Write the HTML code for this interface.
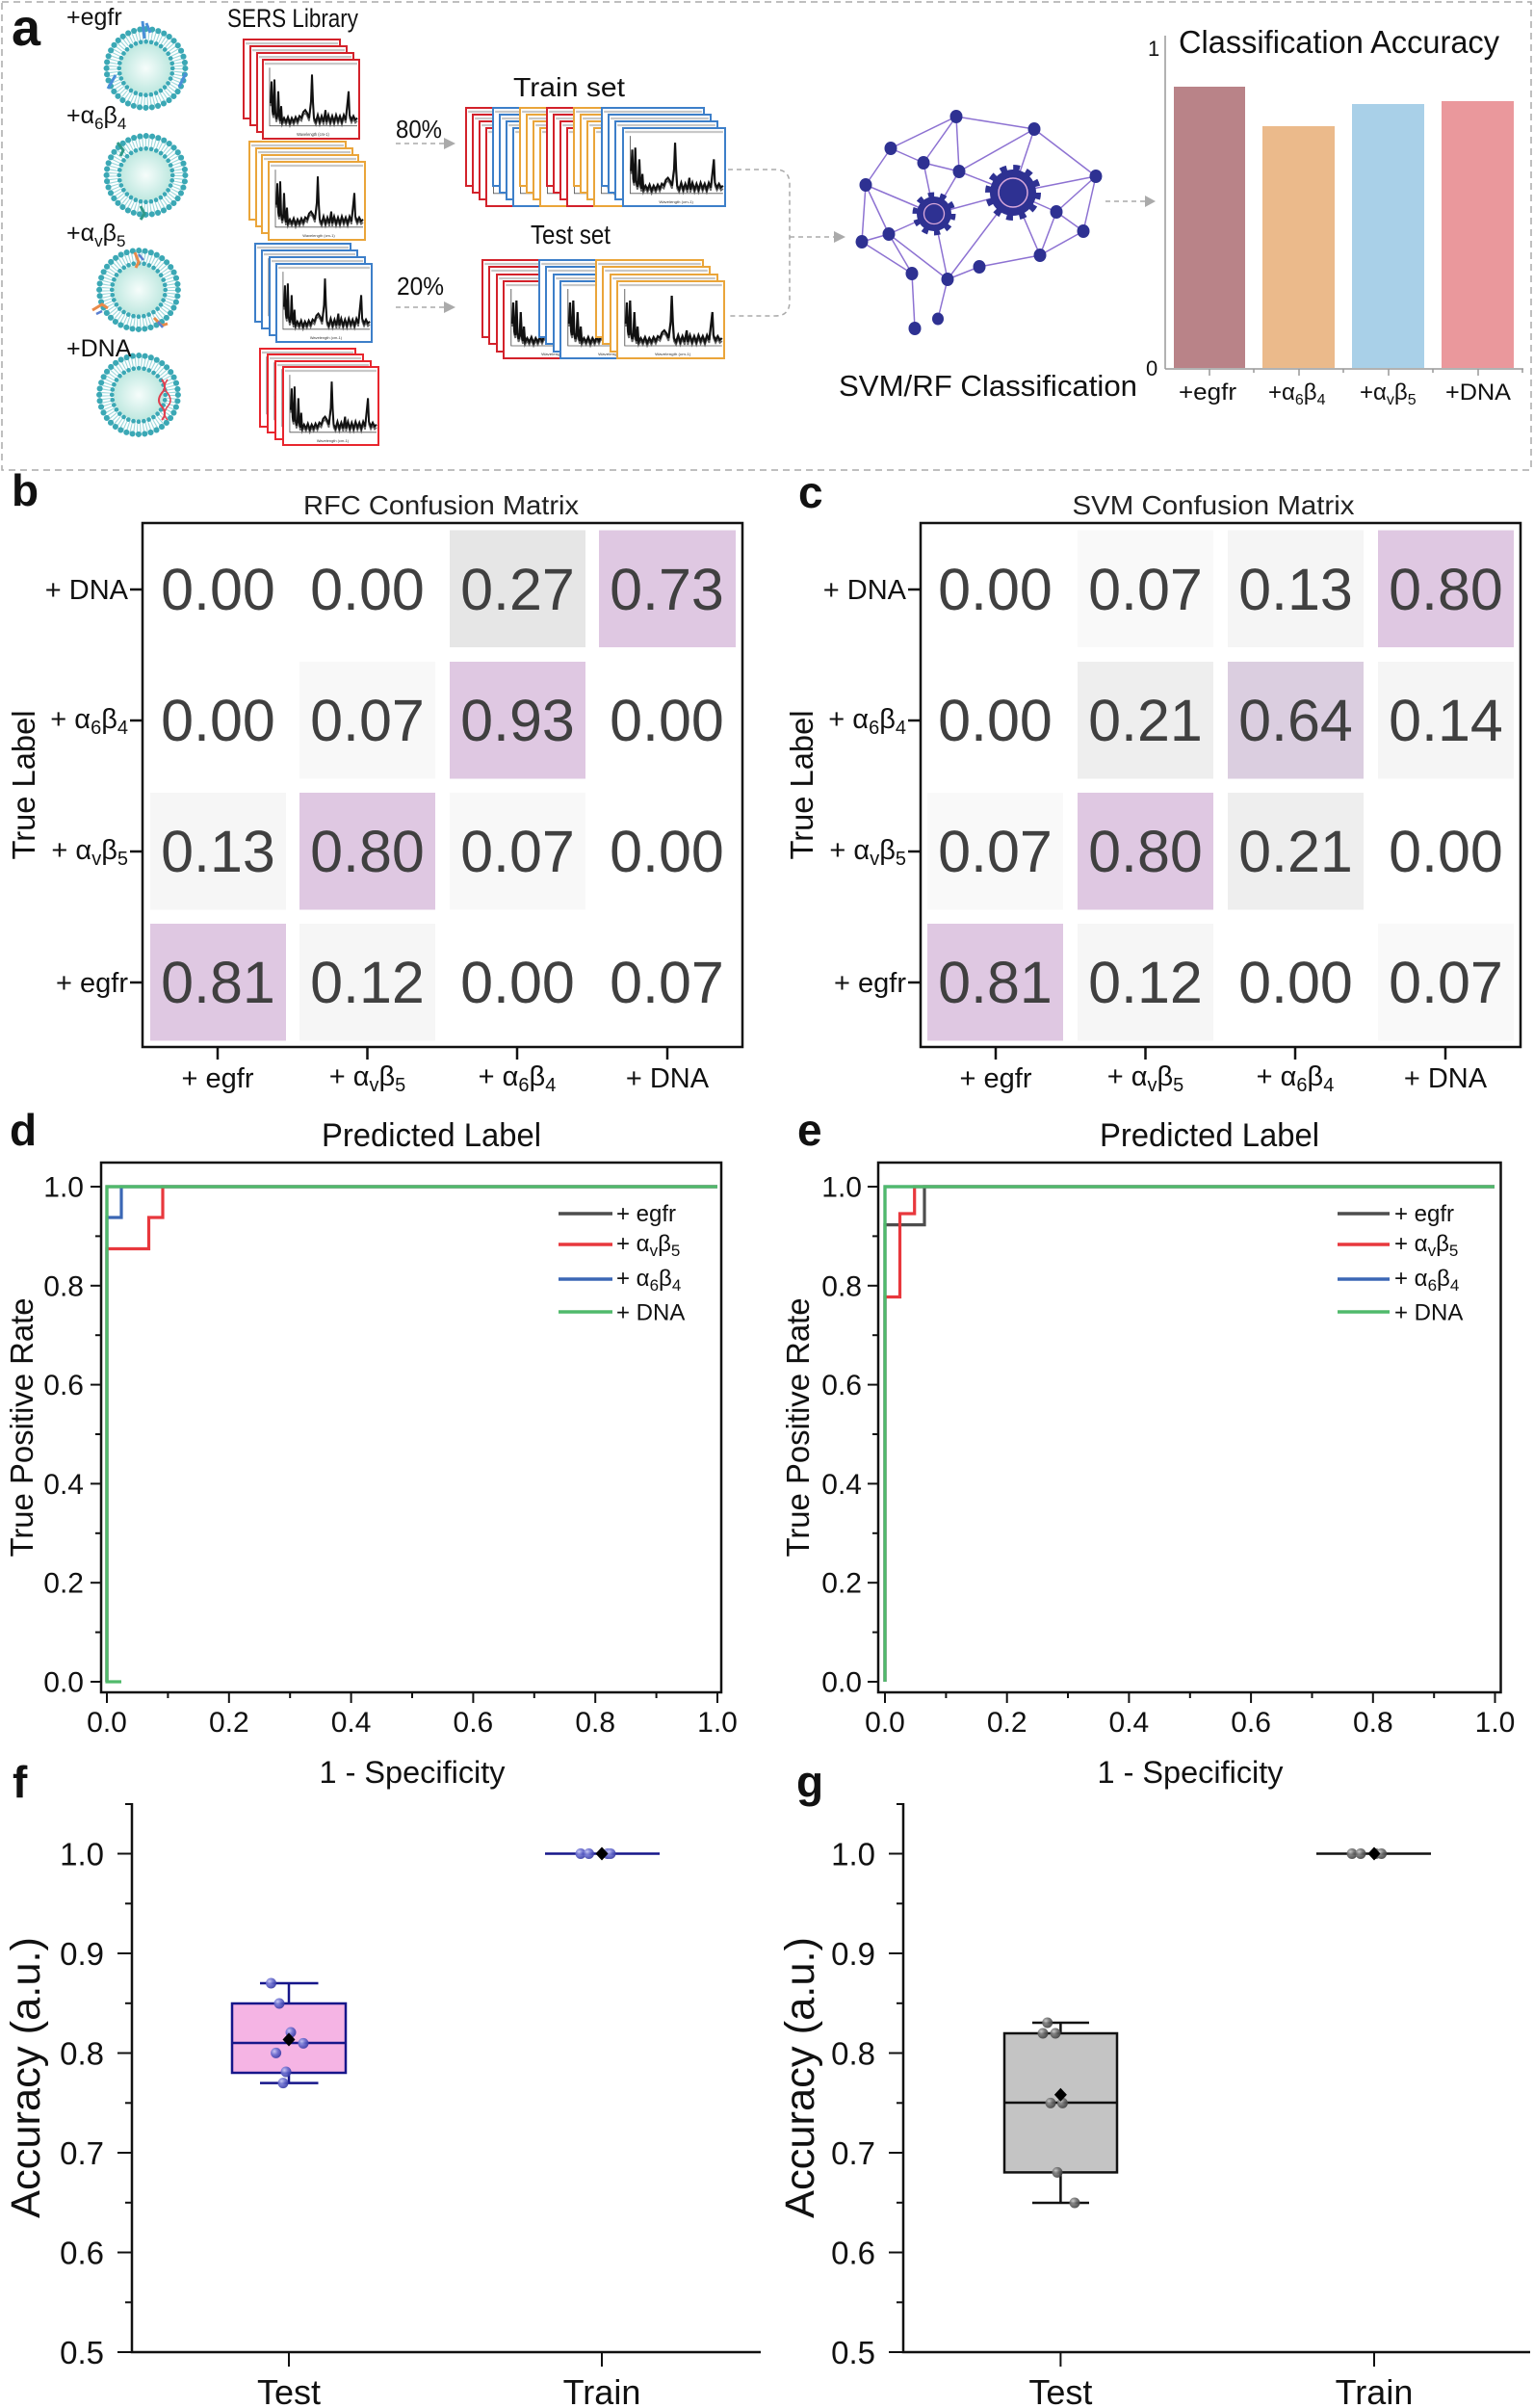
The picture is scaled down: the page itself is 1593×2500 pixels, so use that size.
<!DOCTYPE html>
<html><head><meta charset="utf-8">
<style>
html,body{margin:0;padding:0;background:#fff;}
svg{display:block;}
text{font-family:"Liberation Sans",Arial,sans-serif;}
</style></head>
<body>
<svg width="1593" height="2500" viewBox="0 0 1593 2500" xmlns="http://www.w3.org/2000/svg">
<defs>
<radialGradient id="lg" cx="0.5" cy="0.5" r="0.5">
<stop offset="0" stop-color="#f6fdfb"/><stop offset="1" stop-color="#bfe8e0"/>
</radialGradient>
<radialGradient id="bp" cx="0.35" cy="0.35" r="0.65">
<stop offset="0" stop-color="#c4c6f5"/><stop offset="0.5" stop-color="#6a6ed0"/><stop offset="1" stop-color="#3a3ea8"/>
</radialGradient>
<radialGradient id="gp" cx="0.35" cy="0.35" r="0.65">
<stop offset="0" stop-color="#c8c8c8"/><stop offset="0.5" stop-color="#707070"/><stop offset="1" stop-color="#444"/>
</radialGradient>
<symbol id="sp" viewBox="0 0 100 80" preserveAspectRatio="none">
<line x1="2" y1="4" x2="98" y2="4" stroke="#c8c8c8" stroke-width="2.2"/>
<path d="M7,8 V67 H98" fill="none" stroke="#555" stroke-width="0.8"/>
<path d="M8,47 L9,25 L10,55 L11,59 L12,23 L13,57 L14,63 L15,60 L16,35 L17,60 L18,65 L19,50 L20,66 L22,62 L24,66 L26,61 L28,67 L30,62 L32,66 L34,61 L36,65 L38,60 L40,62 L42,56 L44,54 L46,57 L48,62 L50,45 L51,18 L52,45 L53,62 L55,66 L57,59 L59,66 L61,60 L63,66 L65,54 L66,66 L68,59 L70,66 L72,60 L74,66 L76,59 L78,65 L80,60 L82,66 L84,59 L86,64 L88,45 L89,35 L90,59 L92,64 L94,60 L96,64 L98,62" fill="none" stroke="#666" stroke-width="1.6"/>
<path d="M8,44 L9,22 L10,52 L11,56 L12,20 L13,54 L14,60 L15,57 L16,32 L17,57 L18,62 L19,47 L20,63 L22,59 L24,63 L26,58 L28,64 L30,59 L32,63 L34,58 L36,62 L38,57 L40,59 L42,53 L44,51 L46,54 L48,59 L50,42 L51,15 L52,42 L53,59 L55,63 L57,56 L59,63 L61,57 L63,63 L65,51 L66,63 L68,56 L70,63 L72,57 L74,63 L76,56 L78,62 L80,57 L82,63 L84,56 L86,61 L88,42 L89,32 L90,56 L92,61 L94,57 L96,61 L98,59" fill="none" stroke="#111" stroke-width="2"/>
<text x="52" y="77" font-size="4" text-anchor="middle" fill="#333">Wavelength (cm-1)</text>
</symbol>
<symbol id="lipo" viewBox="-50 -50 100 100">
<circle r="28" fill="url(#lg)"/>
<circle r="36.5" fill="none" stroke="#9fd9dc" stroke-width="12" stroke-dasharray="1.2 2.22"/>
<circle r="43.5" fill="none" stroke="#3ba8b5" stroke-width="6.5" stroke-dasharray="0 6.83" stroke-linecap="round"/>
<circle r="29.5" fill="none" stroke="#3ba8b5" stroke-width="5" stroke-dasharray="0 5.79" stroke-linecap="round"/>
</symbol>
</defs>

<!-- ============ PANEL A ============ -->
<rect x="2" y="2" width="1588" height="486" fill="none" stroke="#aaa" stroke-width="1.5" stroke-dasharray="7 5"/>
<text x="12" y="47" font-size="54" font-weight="bold" fill="#111">a</text>

<use href="#lipo" x="104.5" y="24" width="94" height="94"/>
<use href="#lipo" x="104.5" y="135" width="94" height="94"/>
<use href="#lipo" x="97" y="254" width="94" height="94"/>
<use href="#lipo" x="97" y="363" width="94" height="94"/>
<!-- proteins -->
<path d="M148,22 L150,40 M152,24 L156,34 M112,92 L120,78 M186,90 L193,76" stroke="#4a8fd8" stroke-width="3" fill="none"/>
<path d="M122,148 l6,8 l-3,6 M146,214 l4,8 l-4,6" stroke="#2f9a8a" stroke-width="3" fill="none"/>
<path d="M140,262 l4,10 l-3,6 M96,322 l10,-6 l6,4 M160,330 l8,8 l6,-2" stroke="#e88a4a" stroke-width="3" fill="none"/>
<path d="M144,264 l5,6 M100,326 l6,-3 M164,334 l5,6" stroke="#5a7fd0" stroke-width="2.5" fill="none"/>
<path d="M168,394 q6,8 0,14 q-6,8 0,14 q6,8 0,14" stroke="#e04050" stroke-width="2" fill="none"/>
<path d="M174,394 q-6,8 0,14 q6,8 0,14 q-6,8 0,14" stroke="#e04050" stroke-width="1.5" fill="none"/>

<text x="69" y="26" font-size="25" fill="#111">+egfr</text>
<text x="69" y="128" font-size="25" fill="#111">+α<tspan font-size="17" dy="6">6</tspan><tspan dy="-6">β</tspan><tspan font-size="17" dy="6">4</tspan></text>
<text x="69" y="250" font-size="25" fill="#111">+α<tspan font-size="17" dy="6">v</tspan><tspan dy="-6">β</tspan><tspan font-size="17" dy="6">5</tspan></text>
<text x="69" y="370" font-size="25" fill="#111">+DNA</text>

<text x="236" y="28" font-size="27" fill="#111" textLength="136" lengthAdjust="spacingAndGlyphs">SERS Library</text>

<!-- SERS stacks -->
<g stroke-width="2">
<rect x="253" y="41" width="100" height="82" fill="#fff" stroke="#d3222b"/><use href="#sp" x="253" y="41" width="100" height="82"/>
<rect x="260" y="48" width="100" height="82" fill="#fff" stroke="#d3222b"/><use href="#sp" x="260" y="48" width="100" height="82"/>
<rect x="267" y="55" width="100" height="82" fill="#fff" stroke="#d3222b"/><use href="#sp" x="267" y="55" width="100" height="82"/>
<rect x="273" y="62" width="100" height="82" fill="#fff" stroke="#d3222b"/><use href="#sp" x="273" y="62" width="100" height="82"/>

<rect x="259" y="147" width="100" height="81" fill="#fff" stroke="#eaa53a"/><use href="#sp" x="259" y="147" width="100" height="81"/>
<rect x="266" y="154" width="100" height="81" fill="#fff" stroke="#eaa53a"/><use href="#sp" x="266" y="154" width="100" height="81"/>
<rect x="272" y="161" width="100" height="81" fill="#fff" stroke="#eaa53a"/><use href="#sp" x="272" y="161" width="100" height="81"/>
<rect x="279" y="168" width="100" height="81" fill="#fff" stroke="#eaa53a"/><use href="#sp" x="279" y="168" width="100" height="81"/>

<rect x="265" y="253" width="99" height="81" fill="#fff" stroke="#3d7fc9"/><use href="#sp" x="265" y="253" width="99" height="81"/>
<rect x="272" y="260" width="99" height="81" fill="#fff" stroke="#3d7fc9"/><use href="#sp" x="272" y="260" width="99" height="81"/>
<rect x="280" y="267" width="99" height="81" fill="#fff" stroke="#3d7fc9"/><use href="#sp" x="280" y="267" width="99" height="81"/>
<rect x="287" y="274" width="99" height="81" fill="#fff" stroke="#3d7fc9"/><use href="#sp" x="287" y="274" width="99" height="81"/>

<rect x="270" y="362" width="99" height="81" fill="#fff" stroke="#e8262e"/><use href="#sp" x="270" y="362" width="99" height="81"/>
<rect x="278" y="368" width="99" height="81" fill="#fff" stroke="#e8262e"/><use href="#sp" x="278" y="368" width="99" height="81"/>
<rect x="286" y="375" width="99" height="81" fill="#fff" stroke="#e8262e"/><use href="#sp" x="286" y="375" width="99" height="81"/>
<rect x="294" y="381" width="99" height="81" fill="#fff" stroke="#e8262e"/><use href="#sp" x="294" y="381" width="99" height="81"/>
</g>

<!-- 80% / 20% arrows -->
<text x="411" y="143" font-size="26" fill="#111" textLength="48" lengthAdjust="spacingAndGlyphs">80%</text>
<line x1="411" y1="149" x2="461" y2="149" stroke="#aaa" stroke-width="1.5" stroke-dasharray="5 4"/>
<path d="M461,143 L473,149 L461,155 Z" fill="#aaa"/>
<text x="412" y="306" font-size="26" fill="#111" textLength="49" lengthAdjust="spacingAndGlyphs">20%</text>
<line x1="411" y1="319" x2="461" y2="319" stroke="#aaa" stroke-width="1.5" stroke-dasharray="5 4"/>
<path d="M461,313 L473,319 L461,325 Z" fill="#aaa"/>

<text x="533" y="100" font-size="28" fill="#111" textLength="116" lengthAdjust="spacingAndGlyphs">Train set</text>
<text x="551" y="253" font-size="28" fill="#111" textLength="83" lengthAdjust="spacingAndGlyphs">Test set</text>

<!-- Train set frames -->
<g stroke-width="2">
<rect x="484" y="112" width="106" height="81" fill="#fff" stroke="#d3222b"/><use href="#sp" x="484" y="112" width="106" height="81"/>
<rect x="491" y="119" width="106" height="81" fill="#fff" stroke="#d3222b"/><use href="#sp" x="491" y="119" width="106" height="81"/>
<rect x="498" y="126" width="106" height="81" fill="#fff" stroke="#d3222b"/><use href="#sp" x="498" y="126" width="106" height="81"/>
<rect x="505" y="133" width="106" height="81" fill="#fff" stroke="#d3222b"/><use href="#sp" x="505" y="133" width="106" height="81"/>

<rect x="512" y="112" width="106" height="81" fill="#fff" stroke="#3d7fc9"/><use href="#sp" x="512" y="112" width="106" height="81"/>
<rect x="519" y="119" width="106" height="81" fill="#fff" stroke="#3d7fc9"/><use href="#sp" x="519" y="119" width="106" height="81"/>
<rect x="526" y="126" width="106" height="81" fill="#fff" stroke="#3d7fc9"/><use href="#sp" x="526" y="126" width="106" height="81"/>
<rect x="533" y="133" width="106" height="81" fill="#fff" stroke="#3d7fc9"/><use href="#sp" x="533" y="133" width="106" height="81"/>

<rect x="540" y="112" width="106" height="81" fill="#fff" stroke="#eaa53a"/><use href="#sp" x="540" y="112" width="106" height="81"/>
<rect x="547" y="119" width="106" height="81" fill="#fff" stroke="#eaa53a"/><use href="#sp" x="547" y="119" width="106" height="81"/>
<rect x="554" y="126" width="106" height="81" fill="#fff" stroke="#eaa53a"/><use href="#sp" x="554" y="126" width="106" height="81"/>
<rect x="561" y="133" width="106" height="81" fill="#fff" stroke="#eaa53a"/><use href="#sp" x="561" y="133" width="106" height="81"/>

<rect x="568" y="112" width="106" height="81" fill="#fff" stroke="#d3222b"/><use href="#sp" x="568" y="112" width="106" height="81"/>
<rect x="575" y="119" width="106" height="81" fill="#fff" stroke="#d3222b"/><use href="#sp" x="575" y="119" width="106" height="81"/>
<rect x="582" y="126" width="106" height="81" fill="#fff" stroke="#d3222b"/><use href="#sp" x="582" y="126" width="106" height="81"/>
<rect x="589" y="133" width="106" height="81" fill="#fff" stroke="#d3222b"/><use href="#sp" x="589" y="133" width="106" height="81"/>

<rect x="596" y="112" width="106" height="81" fill="#fff" stroke="#eaa53a"/><use href="#sp" x="596" y="112" width="106" height="81"/>
<rect x="603" y="119" width="106" height="81" fill="#fff" stroke="#eaa53a"/><use href="#sp" x="603" y="119" width="106" height="81"/>
<rect x="610" y="126" width="106" height="81" fill="#fff" stroke="#eaa53a"/><use href="#sp" x="610" y="126" width="106" height="81"/>
<rect x="617" y="133" width="106" height="81" fill="#fff" stroke="#eaa53a"/><use href="#sp" x="617" y="133" width="106" height="81"/>

<rect x="625" y="112" width="106" height="81" fill="#fff" stroke="#3d7fc9"/><use href="#sp" x="625" y="112" width="106" height="81"/>
<rect x="632" y="119" width="106" height="81" fill="#fff" stroke="#3d7fc9"/><use href="#sp" x="632" y="119" width="106" height="81"/>
<rect x="639" y="126" width="106" height="81" fill="#fff" stroke="#3d7fc9"/><use href="#sp" x="639" y="126" width="106" height="81"/>
<rect x="647" y="133" width="106" height="81" fill="#fff" stroke="#3d7fc9"/><use href="#sp" x="647" y="133" width="106" height="81"/>
</g>

<!-- Test set frames -->
<g stroke-width="2">
<rect x="501" y="270" width="111" height="80" fill="#fff" stroke="#d3222b"/><use href="#sp" x="501" y="270" width="111" height="80"/>
<rect x="508" y="277" width="111" height="80" fill="#fff" stroke="#d3222b"/><use href="#sp" x="508" y="277" width="111" height="80"/>
<rect x="516" y="285" width="111" height="80" fill="#fff" stroke="#d3222b"/><use href="#sp" x="516" y="285" width="111" height="80"/>
<rect x="523" y="292" width="111" height="80" fill="#fff" stroke="#d3222b"/><use href="#sp" x="523" y="292" width="111" height="80"/>

<rect x="560" y="270" width="111" height="80" fill="#fff" stroke="#3d7fc9"/><use href="#sp" x="560" y="270" width="111" height="80"/>
<rect x="567" y="277" width="111" height="80" fill="#fff" stroke="#3d7fc9"/><use href="#sp" x="567" y="277" width="111" height="80"/>
<rect x="575" y="285" width="111" height="80" fill="#fff" stroke="#3d7fc9"/><use href="#sp" x="575" y="285" width="111" height="80"/>
<rect x="582" y="292" width="111" height="80" fill="#fff" stroke="#3d7fc9"/><use href="#sp" x="582" y="292" width="111" height="80"/>

<rect x="619" y="270" width="111" height="80" fill="#fff" stroke="#eaa53a"/><use href="#sp" x="619" y="270" width="111" height="80"/>
<rect x="626" y="277" width="111" height="80" fill="#fff" stroke="#eaa53a"/><use href="#sp" x="626" y="277" width="111" height="80"/>
<rect x="634" y="285" width="111" height="80" fill="#fff" stroke="#eaa53a"/><use href="#sp" x="634" y="285" width="111" height="80"/>
<rect x="641" y="292" width="111" height="80" fill="#fff" stroke="#eaa53a"/><use href="#sp" x="641" y="292" width="111" height="80"/>
</g>

<!-- bracket + arrows -->
<path d="M756,176 L805,176 Q820,176 820,191 L820,313 Q820,328 805,328 L758,328" fill="none" stroke="#aaa" stroke-width="1.5" stroke-dasharray="5 4"/>
<line x1="820" y1="246" x2="868" y2="246" stroke="#aaa" stroke-width="1.5" stroke-dasharray="5 4"/>
<path d="M866,240 L878,246 L866,252 Z" fill="#aaa"/>

<!-- network -->
<g stroke="#8d72d2" stroke-width="1.5" fill="none">
<line x1="993" y1="121" x2="925" y2="154"/><line x1="993" y1="121" x2="1074" y2="134"/>
<line x1="993" y1="121" x2="959" y2="169"/><line x1="993" y1="121" x2="996" y2="178"/>
<line x1="925" y1="154" x2="959" y2="169"/><line x1="925" y1="154" x2="899" y2="192"/>
<line x1="959" y1="169" x2="996" y2="178"/><line x1="959" y1="169" x2="970" y2="222"/>
<line x1="1074" y1="134" x2="996" y2="178"/><line x1="1074" y1="134" x2="1052" y2="200"/>
<line x1="1074" y1="134" x2="1138" y2="183"/><line x1="996" y1="178" x2="1052" y2="200"/>
<line x1="996" y1="178" x2="970" y2="222"/><line x1="899" y1="192" x2="970" y2="222"/>
<line x1="899" y1="192" x2="895" y2="251"/><line x1="899" y1="192" x2="923" y2="243"/>
<line x1="1052" y1="200" x2="1138" y2="183"/><line x1="1052" y1="200" x2="1097" y2="220"/>
<line x1="1052" y1="200" x2="970" y2="222"/><line x1="1138" y1="183" x2="1097" y2="220"/>
<line x1="1138" y1="183" x2="1125" y2="240"/><line x1="1097" y1="220" x2="1125" y2="240"/>
<line x1="1097" y1="220" x2="1080" y2="265"/><line x1="1125" y1="240" x2="1080" y2="265"/>
<line x1="1052" y1="200" x2="1080" y2="265"/><line x1="1052" y1="200" x2="984" y2="290"/>
<line x1="1080" y1="265" x2="1017" y2="277"/><line x1="1017" y1="277" x2="984" y2="290"/>
<line x1="970" y1="222" x2="923" y2="243"/><line x1="970" y1="222" x2="984" y2="290"/>
<line x1="923" y1="243" x2="895" y2="251"/><line x1="923" y1="243" x2="947" y2="284"/>
<line x1="923" y1="243" x2="984" y2="290"/><line x1="947" y1="284" x2="950" y2="341"/>
<line x1="984" y1="290" x2="974" y2="331"/><line x1="895" y1="251" x2="947" y2="284"/>
</g>
<g fill="#2e3192">
<ellipse cx="993" cy="121" rx="6.5" ry="7"/><ellipse cx="1074" cy="134" rx="6.5" ry="7"/>
<ellipse cx="925" cy="154" rx="6.5" ry="7"/><ellipse cx="959" cy="169" rx="6.5" ry="7"/>
<ellipse cx="996" cy="178" rx="6.5" ry="7"/><ellipse cx="1138" cy="183" rx="6.5" ry="7"/>
<ellipse cx="899" cy="192" rx="6.5" ry="7"/><ellipse cx="1097" cy="220" rx="6.5" ry="7"/>
<ellipse cx="1125" cy="240" rx="6.5" ry="7"/><ellipse cx="923" cy="243" rx="6.5" ry="7"/>
<ellipse cx="895" cy="251" rx="6.5" ry="7"/><ellipse cx="1080" cy="265" rx="6.5" ry="7"/>
<ellipse cx="1017" cy="277" rx="6.5" ry="7"/><ellipse cx="947" cy="284" rx="6.5" ry="7"/>
<ellipse cx="984" cy="290" rx="6.5" ry="7"/><ellipse cx="974" cy="331" rx="6" ry="6.5"/>
<ellipse cx="950" cy="341" rx="6.5" ry="7"/>
<circle cx="1052" cy="200" r="24"/>
<circle cx="970" cy="222" r="18"/>
</g>
<circle cx="1052" cy="200" r="25.5" fill="none" stroke="#2e3192" stroke-width="7" stroke-dasharray="6.7 6.65"/>
<circle cx="970" cy="222" r="19.5" fill="none" stroke="#2e3192" stroke-width="6" stroke-dasharray="6.1 6.15"/>
<circle cx="1052" cy="200" r="15" fill="none" stroke="#d9a8da" stroke-width="1.5"/>
<circle cx="970" cy="222" r="10.5" fill="none" stroke="#d9a8da" stroke-width="1.3"/>

<text x="871" y="411" font-size="31" fill="#111" textLength="310" lengthAdjust="spacingAndGlyphs">SVM/RF Classification</text>
<line x1="1148" y1="209" x2="1190" y2="209" stroke="#aaa" stroke-width="1.5" stroke-dasharray="5 4"/>
<path d="M1189,203 L1200,209 L1189,215 Z" fill="#aaa"/>

<!-- bar chart -->
<rect x="1219" y="90" width="74" height="292" fill="#b98388"/>
<rect x="1311" y="131" width="75" height="251" fill="#ebba8b"/>
<rect x="1404" y="108" width="75" height="274" fill="#a9d0e8"/>
<rect x="1497" y="105" width="75" height="277" fill="#ea989c"/>
<line x1="1210" y1="37" x2="1210" y2="383" stroke="#999" stroke-width="1.5"/>
<line x1="1210" y1="383" x2="1582" y2="383" stroke="#999" stroke-width="1.5"/>
<g stroke="#999" stroke-width="1.5">
<line x1="1256" y1="383" x2="1256" y2="390"/><line x1="1349" y1="383" x2="1349" y2="390"/>
<line x1="1442" y1="383" x2="1442" y2="390"/><line x1="1535" y1="383" x2="1535" y2="390"/>
<line x1="1302" y1="383" x2="1302" y2="387"/><line x1="1395" y1="383" x2="1395" y2="387"/>
<line x1="1488" y1="383" x2="1488" y2="387"/><line x1="1581" y1="383" x2="1581" y2="387"/>
</g>
<text x="1192" y="58" font-size="22" fill="#111">1</text>
<text x="1190" y="390" font-size="22" fill="#111">0</text>
<text x="1224" y="55" font-size="33" fill="#111" textLength="333" lengthAdjust="spacingAndGlyphs">Classification Accuracy</text>
<text x="1224" y="415" font-size="24" fill="#111" textLength="60" lengthAdjust="spacingAndGlyphs">+egfr</text>
<text x="1317" y="415" font-size="24" fill="#111">+α<tspan font-size="16" dy="5">6</tspan><tspan dy="-5">β</tspan><tspan font-size="16" dy="5">4</tspan></text>
<text x="1412" y="415" font-size="24" fill="#111">+α<tspan font-size="16" dy="5">v</tspan><tspan dy="-5">β</tspan><tspan font-size="16" dy="5">5</tspan></text>
<text x="1501" y="415" font-size="24" fill="#111" textLength="68" lengthAdjust="spacingAndGlyphs">+DNA</text>

<!-- ============ PANEL B ============ -->
<text x="12" y="525" font-size="46" font-weight="bold" fill="#111">b</text>
<text x="458" y="534" font-size="28" fill="#222" text-anchor="middle" textLength="286" lengthAdjust="spacingAndGlyphs">RFC Confusion Matrix</text>
<g>
<rect x="467" y="550.5" width="141" height="121.5" fill="#e6e6e6"/>
<rect x="622" y="550.5" width="142" height="121.5" fill="#dfc8e2"/>
<rect x="311" y="687" width="141" height="121.5" fill="#f8f8f8"/>
<rect x="467" y="687" width="141" height="121.5" fill="#dfc8e2"/>
<rect x="156" y="823" width="141" height="121.5" fill="#f6f6f6"/>
<rect x="311" y="823" width="141" height="121.5" fill="#dfc8e2"/>
<rect x="467" y="823" width="141" height="121.5" fill="#f8f8f8"/>
<rect x="156" y="959" width="141" height="121.5" fill="#dfc8e2"/>
<rect x="311" y="959" width="141" height="121.5" fill="#f6f6f6"/>
</g>
<rect x="148" y="543" width="623" height="544" fill="none" stroke="#111" stroke-width="2.5"/>
<g font-size="61" fill="#404040" text-anchor="middle">
<text x="226.5" y="633">0.00</text><text x="381.5" y="633">0.00</text><text x="537.5" y="633">0.27</text><text x="692.5" y="633">0.73</text>
<text x="226.5" y="769">0.00</text><text x="381.5" y="769">0.07</text><text x="537.5" y="769">0.93</text><text x="692.5" y="769">0.00</text>
<text x="226.5" y="905">0.13</text><text x="381.5" y="905">0.80</text><text x="537.5" y="905">0.07</text><text x="692.5" y="905">0.00</text>
<text x="226.5" y="1041">0.81</text><text x="381.5" y="1041">0.12</text><text x="537.5" y="1041">0.00</text><text x="692.5" y="1041">0.07</text>
</g>
<g stroke="#111" stroke-width="2.5">
<line x1="135" y1="612" x2="148" y2="612"/><line x1="135" y1="748" x2="148" y2="748"/>
<line x1="135" y1="884" x2="148" y2="884"/><line x1="135" y1="1020" x2="148" y2="1020"/>
<line x1="226" y1="1087" x2="226" y2="1100"/><line x1="381.5" y1="1087" x2="381.5" y2="1100"/>
<line x1="537" y1="1087" x2="537" y2="1100"/><line x1="693" y1="1087" x2="693" y2="1100"/>
</g>
<g font-size="29" fill="#111" text-anchor="end">
<text x="133" y="622">+ DNA</text>
<text x="133" y="756">+ α<tspan font-size="20" dy="6">6</tspan><tspan dy="-6">β</tspan><tspan font-size="20" dy="6">4</tspan></text>
<text x="133" y="892">+ α<tspan font-size="20" dy="6">v</tspan><tspan dy="-6">β</tspan><tspan font-size="20" dy="6">5</tspan></text>
<text x="133" y="1030">+ egfr</text>
</g>
<g font-size="29" fill="#111" text-anchor="middle">
<text x="226" y="1129">+ egfr</text>
<text x="381.5" y="1127">+ α<tspan font-size="20" dy="6">v</tspan><tspan dy="-6">β</tspan><tspan font-size="20" dy="6">5</tspan></text>
<text x="537" y="1127">+ α<tspan font-size="20" dy="6">6</tspan><tspan dy="-6">β</tspan><tspan font-size="20" dy="6">4</tspan></text>
<text x="693" y="1129">+ DNA</text>
</g>
<text transform="translate(36,815) rotate(-90)" font-size="33" fill="#111" text-anchor="middle" textLength="155" lengthAdjust="spacingAndGlyphs">True Label</text>
<text x="448" y="1190" font-size="34" fill="#111" text-anchor="middle" textLength="228" lengthAdjust="spacingAndGlyphs">Predicted Label</text>

<!-- ============ PANEL C ============ -->
<text x="829" y="527" font-size="46" font-weight="bold" fill="#111">c</text>
<text x="1260" y="534" font-size="28" fill="#222" text-anchor="middle" textLength="293" lengthAdjust="spacingAndGlyphs">SVM Confusion Matrix</text>
<g>
<rect x="1119" y="550.5" width="141" height="121.5" fill="#f9f9f9"/>
<rect x="1275" y="550.5" width="141" height="121.5" fill="#f5f5f5"/>
<rect x="1431" y="550.5" width="141" height="121.5" fill="#dfc8e2"/>
<rect x="1119" y="687" width="141" height="121.5" fill="#eeeeee"/>
<rect x="1275" y="687" width="141" height="121.5" fill="#dbcee0"/>
<rect x="1431" y="687" width="141" height="121.5" fill="#f5f5f5"/>
<rect x="963" y="823" width="141" height="121.5" fill="#f9f9f9"/>
<rect x="1119" y="823" width="141" height="121.5" fill="#dfc8e2"/>
<rect x="1275" y="823" width="141" height="121.5" fill="#eeeeee"/>
<rect x="963" y="959" width="141" height="121.5" fill="#dfc8e2"/>
<rect x="1119" y="959" width="141" height="121.5" fill="#f6f6f6"/>
<rect x="1431" y="959" width="141" height="121.5" fill="#f9f9f9"/>
</g>
<rect x="956" y="543" width="623" height="544" fill="none" stroke="#111" stroke-width="2.5"/>
<g font-size="61" fill="#404040" text-anchor="middle">
<text x="1033.5" y="633">0.00</text><text x="1189.5" y="633">0.07</text><text x="1345.5" y="633">0.13</text><text x="1501.5" y="633">0.80</text>
<text x="1033.5" y="769">0.00</text><text x="1189.5" y="769">0.21</text><text x="1345.5" y="769">0.64</text><text x="1501.5" y="769">0.14</text>
<text x="1033.5" y="905">0.07</text><text x="1189.5" y="905">0.80</text><text x="1345.5" y="905">0.21</text><text x="1501.5" y="905">0.00</text>
<text x="1033.5" y="1041">0.81</text><text x="1189.5" y="1041">0.12</text><text x="1345.5" y="1041">0.00</text><text x="1501.5" y="1041">0.07</text>
</g>
<g stroke="#111" stroke-width="2.5">
<line x1="943" y1="612" x2="956" y2="612"/><line x1="943" y1="748" x2="956" y2="748"/>
<line x1="943" y1="884" x2="956" y2="884"/><line x1="943" y1="1020" x2="956" y2="1020"/>
<line x1="1034" y1="1087" x2="1034" y2="1100"/><line x1="1189.5" y1="1087" x2="1189.5" y2="1100"/>
<line x1="1345" y1="1087" x2="1345" y2="1100"/><line x1="1501" y1="1087" x2="1501" y2="1100"/>
</g>
<g font-size="29" fill="#111" text-anchor="end">
<text x="941" y="622">+ DNA</text>
<text x="941" y="756">+ α<tspan font-size="20" dy="6">6</tspan><tspan dy="-6">β</tspan><tspan font-size="20" dy="6">4</tspan></text>
<text x="941" y="892">+ α<tspan font-size="20" dy="6">v</tspan><tspan dy="-6">β</tspan><tspan font-size="20" dy="6">5</tspan></text>
<text x="941" y="1030">+ egfr</text>
</g>
<g font-size="29" fill="#111" text-anchor="middle">
<text x="1034" y="1129">+ egfr</text>
<text x="1189.5" y="1127">+ α<tspan font-size="20" dy="6">v</tspan><tspan dy="-6">β</tspan><tspan font-size="20" dy="6">5</tspan></text>
<text x="1345" y="1127">+ α<tspan font-size="20" dy="6">6</tspan><tspan dy="-6">β</tspan><tspan font-size="20" dy="6">4</tspan></text>
<text x="1501" y="1129">+ DNA</text>
</g>
<text transform="translate(844,815) rotate(-90)" font-size="33" fill="#111" text-anchor="middle" textLength="155" lengthAdjust="spacingAndGlyphs">True Label</text>
<text x="1256" y="1190" font-size="34" fill="#111" text-anchor="middle" textLength="228" lengthAdjust="spacingAndGlyphs">Predicted Label</text>

<!-- ============ PANEL D ============ -->
<text x="10" y="1189" font-size="46" font-weight="bold" fill="#111">d</text>
<rect x="105" y="1207" width="644" height="550" fill="none" stroke="#111" stroke-width="2.5"/>
<g stroke="#111" stroke-width="2">
<line x1="94" y1="1746" x2="105" y2="1746"/><line x1="94" y1="1643.2" x2="105" y2="1643.2"/>
<line x1="94" y1="1540.4" x2="105" y2="1540.4"/><line x1="94" y1="1437.6" x2="105" y2="1437.6"/>
<line x1="94" y1="1334.8" x2="105" y2="1334.8"/><line x1="94" y1="1232" x2="105" y2="1232"/>
<line x1="99" y1="1694.6" x2="105" y2="1694.6"/><line x1="99" y1="1591.8" x2="105" y2="1591.8"/>
<line x1="99" y1="1489" x2="105" y2="1489"/><line x1="99" y1="1386.2" x2="105" y2="1386.2"/>
<line x1="99" y1="1283.4" x2="105" y2="1283.4"/>
<line x1="111" y1="1757" x2="111" y2="1768"/><line x1="237.8" y1="1757" x2="237.8" y2="1768"/>
<line x1="364.6" y1="1757" x2="364.6" y2="1768"/><line x1="491.4" y1="1757" x2="491.4" y2="1768"/>
<line x1="618.2" y1="1757" x2="618.2" y2="1768"/><line x1="745" y1="1757" x2="745" y2="1768"/>
<line x1="174.4" y1="1757" x2="174.4" y2="1763"/><line x1="301.2" y1="1757" x2="301.2" y2="1763"/>
<line x1="428" y1="1757" x2="428" y2="1763"/><line x1="554.8" y1="1757" x2="554.8" y2="1763"/>
<line x1="681.6" y1="1757" x2="681.6" y2="1763"/>
</g>
<g font-size="30" fill="#111" text-anchor="end">
<text x="87" y="1756.5">0.0</text><text x="87" y="1653.7">0.2</text><text x="87" y="1550.9">0.4</text>
<text x="87" y="1448.1">0.6</text><text x="87" y="1345.3">0.8</text><text x="87" y="1242.5">1.0</text>
</g>
<g font-size="30" fill="#111" text-anchor="middle">
<text x="111" y="1798">0.0</text><text x="237.8" y="1798">0.2</text><text x="364.6" y="1798">0.4</text>
<text x="491.4" y="1798">0.6</text><text x="618.2" y="1798">0.8</text><text x="745" y="1798">1.0</text>
</g>
<g fill="none" stroke-width="3.2" stroke-linejoin="miter">
<path d="M111,1746 V1232 H745" stroke="#4d4d4d"/>
<path d="M111,1746 V1296.5 H154.5 V1264 H169 V1232 H745" stroke="#e8383d"/>
<path d="M111,1746 V1264 H126 V1232 H745" stroke="#3b67b5"/>
<path d="M126,1746 H111 V1232 H745" stroke="#50ba6b"/>
</g>
<g stroke-width="3.5">
<line x1="580" y1="1260" x2="636" y2="1260" stroke="#4d4d4d"/>
<line x1="580" y1="1292" x2="636" y2="1292" stroke="#e8383d"/>
<line x1="580" y1="1328" x2="636" y2="1328" stroke="#3b67b5"/>
<line x1="580" y1="1362" x2="636" y2="1362" stroke="#50ba6b"/>
</g>
<g font-size="24" fill="#111">
<text x="640" y="1268">+ egfr</text>
<text x="640" y="1299">+ α<tspan font-size="17" dy="5">v</tspan><tspan dy="-5">β</tspan><tspan font-size="17" dy="5">5</tspan></text>
<text x="640" y="1335">+ α<tspan font-size="17" dy="5">6</tspan><tspan dy="-5">β</tspan><tspan font-size="17" dy="5">4</tspan></text>
<text x="640" y="1370.5">+ DNA</text>
</g>
<text transform="translate(34,1482) rotate(-90)" font-size="33" fill="#111" text-anchor="middle" textLength="269" lengthAdjust="spacingAndGlyphs">True Positive Rate</text>
<text x="428" y="1851" font-size="32" fill="#111" text-anchor="middle" textLength="193" lengthAdjust="spacingAndGlyphs">1 - Specificity</text>

<!-- ============ PANEL E ============ -->
<text x="828" y="1189" font-size="46" font-weight="bold" fill="#111">e</text>
<rect x="912" y="1207" width="646.5" height="550" fill="none" stroke="#111" stroke-width="2.5"/>
<g stroke="#111" stroke-width="2">
<line x1="901" y1="1746" x2="912" y2="1746"/><line x1="901" y1="1643.2" x2="912" y2="1643.2"/>
<line x1="901" y1="1540.4" x2="912" y2="1540.4"/><line x1="901" y1="1437.6" x2="912" y2="1437.6"/>
<line x1="901" y1="1334.8" x2="912" y2="1334.8"/><line x1="901" y1="1232" x2="912" y2="1232"/>
<line x1="906" y1="1694.6" x2="912" y2="1694.6"/><line x1="906" y1="1591.8" x2="912" y2="1591.8"/>
<line x1="906" y1="1489" x2="912" y2="1489"/><line x1="906" y1="1386.2" x2="912" y2="1386.2"/>
<line x1="906" y1="1283.4" x2="912" y2="1283.4"/>
<line x1="919" y1="1757" x2="919" y2="1768"/><line x1="1045.7" y1="1757" x2="1045.7" y2="1768"/>
<line x1="1172.4" y1="1757" x2="1172.4" y2="1768"/><line x1="1299.1" y1="1757" x2="1299.1" y2="1768"/>
<line x1="1425.8" y1="1757" x2="1425.8" y2="1768"/><line x1="1552.5" y1="1757" x2="1552.5" y2="1768"/>
<line x1="982.4" y1="1757" x2="982.4" y2="1763"/><line x1="1109" y1="1757" x2="1109" y2="1763"/>
<line x1="1235.8" y1="1757" x2="1235.8" y2="1763"/><line x1="1362.5" y1="1757" x2="1362.5" y2="1763"/>
<line x1="1489.2" y1="1757" x2="1489.2" y2="1763"/>
</g>
<g font-size="30" fill="#111" text-anchor="end">
<text x="895" y="1756.5">0.0</text><text x="895" y="1653.7">0.2</text><text x="895" y="1550.9">0.4</text>
<text x="895" y="1448.1">0.6</text><text x="895" y="1345.3">0.8</text><text x="895" y="1242.5">1.0</text>
</g>
<g font-size="30" fill="#111" text-anchor="middle">
<text x="919" y="1798">0.0</text><text x="1045.7" y="1798">0.2</text><text x="1172.4" y="1798">0.4</text>
<text x="1299.1" y="1798">0.6</text><text x="1425.8" y="1798">0.8</text><text x="1552.5" y="1798">1.0</text>
</g>
<g fill="none" stroke-width="3.2">
<path d="M919,1746 V1271.6 H960 V1232 H1552" stroke="#4d4d4d"/>
<path d="M919,1746 V1346.5 H934.5 V1260 H949.7 V1232 H1552" stroke="#e8383d"/>
<path d="M919,1746 V1232 H1552" stroke="#3b67b5"/>
<path d="M919,1746 V1232 H1552" stroke="#50ba6b"/>
</g>
<g stroke-width="3.5">
<line x1="1389" y1="1260" x2="1443" y2="1260" stroke="#4d4d4d"/>
<line x1="1389" y1="1292" x2="1443" y2="1292" stroke="#e8383d"/>
<line x1="1389" y1="1328" x2="1443" y2="1328" stroke="#3b67b5"/>
<line x1="1389" y1="1362" x2="1443" y2="1362" stroke="#50ba6b"/>
</g>
<g font-size="24" fill="#111">
<text x="1448" y="1268">+ egfr</text>
<text x="1448" y="1299">+ α<tspan font-size="17" dy="5">v</tspan><tspan dy="-5">β</tspan><tspan font-size="17" dy="5">5</tspan></text>
<text x="1448" y="1335">+ α<tspan font-size="17" dy="5">6</tspan><tspan dy="-5">β</tspan><tspan font-size="17" dy="5">4</tspan></text>
<text x="1448" y="1370.5">+ DNA</text>
</g>
<text transform="translate(840,1482) rotate(-90)" font-size="33" fill="#111" text-anchor="middle" textLength="269" lengthAdjust="spacingAndGlyphs">True Positive Rate</text>
<text x="1236" y="1851" font-size="32" fill="#111" text-anchor="middle" textLength="193" lengthAdjust="spacingAndGlyphs">1 - Specificity</text>

<!-- ============ PANEL F ============ -->
<text x="13" y="1866" font-size="46" font-weight="bold" fill="#111">f</text>
<g stroke="#111" stroke-width="2.5" fill="none">
<path d="M137,1872 V2442 H790"/>
</g>
<g stroke="#111" stroke-width="2">
<line x1="122" y1="2442" x2="137" y2="2442"/><line x1="122" y1="2338.5" x2="137" y2="2338.5"/>
<line x1="122" y1="2235" x2="137" y2="2235"/><line x1="122" y1="2131.5" x2="137" y2="2131.5"/>
<line x1="122" y1="2028" x2="137" y2="2028"/><line x1="122" y1="1924.5" x2="137" y2="1924.5"/>
<line x1="130" y1="2390.3" x2="137" y2="2390.3"/><line x1="130" y1="2286.8" x2="137" y2="2286.8"/>
<line x1="130" y1="2183.3" x2="137" y2="2183.3"/><line x1="130" y1="2079.8" x2="137" y2="2079.8"/>
<line x1="130" y1="1976.3" x2="137" y2="1976.3"/><line x1="130" y1="1873" x2="137" y2="1873"/>
<line x1="300" y1="2442" x2="300" y2="2457"/><line x1="625" y1="2442" x2="625" y2="2457"/>
</g>
<g font-size="33" fill="#111" text-anchor="end">
<text x="108" y="2454">0.5</text><text x="108" y="2350.5">0.6</text><text x="108" y="2247">0.7</text>
<text x="108" y="2143.5">0.8</text><text x="108" y="2040">0.9</text><text x="108" y="1936.5">1.0</text>
</g>
<text x="300" y="2496" font-size="36" fill="#111" text-anchor="middle">Test</text>
<text x="625" y="2496" font-size="36" fill="#111" text-anchor="middle">Train</text>
<text transform="translate(41,2157) rotate(-90)" font-size="43" fill="#111" text-anchor="middle" textLength="292" lengthAdjust="spacingAndGlyphs">Accuracy (a.u.)</text>
<g stroke="#16168a" stroke-width="2.5" fill="none">
<line x1="300" y1="2059" x2="300" y2="2080"/><line x1="300" y1="2152" x2="300" y2="2162.6"/>
<line x1="270" y1="2059" x2="330.5" y2="2059"/><line x1="270" y1="2162.6" x2="330.5" y2="2162.6"/>
<rect x="241" y="2080" width="118" height="72" fill="#f5b4e4"/>
<line x1="241" y1="2121" x2="359" y2="2121"/>
<line x1="566" y1="1924.5" x2="685" y2="1924.5"/>
</g>
<g fill="url(#bp)" opacity="0.9">
<circle cx="281.5" cy="2059" r="5.5"/><circle cx="290" cy="2080" r="5.5"/>
<circle cx="302" cy="2110" r="5.5"/><circle cx="315" cy="2121.4" r="5.5"/>
<circle cx="286.6" cy="2131.4" r="5.5"/><circle cx="297" cy="2151" r="5.5"/>
<circle cx="294" cy="2162.6" r="5.5"/>
<circle cx="603" cy="1924.5" r="5.5"/><circle cx="611.5" cy="1924.5" r="5.5"/>
<circle cx="631" cy="1924.5" r="5.5"/><circle cx="634" cy="1924.5" r="5.5"/>
</g>
<path d="M300,2110.5 L306.5,2117.5 L300,2124.5 L293.5,2117.5 Z" fill="#000"/>
<path d="M625,1917.5 L631.5,1924.5 L625,1931.5 L618.5,1924.5 Z" fill="#000"/>

<!-- ============ PANEL G ============ -->
<text x="827" y="1866" font-size="46" font-weight="bold" fill="#111">g</text>
<g stroke="#111" stroke-width="2.5" fill="none">
<path d="M938,1872 V2442 H1589"/>
</g>
<g stroke="#111" stroke-width="2">
<line x1="923" y1="2442" x2="938" y2="2442"/><line x1="923" y1="2338.5" x2="938" y2="2338.5"/>
<line x1="923" y1="2235" x2="938" y2="2235"/><line x1="923" y1="2131.5" x2="938" y2="2131.5"/>
<line x1="923" y1="2028" x2="938" y2="2028"/><line x1="923" y1="1924.5" x2="938" y2="1924.5"/>
<line x1="931" y1="2390.3" x2="938" y2="2390.3"/><line x1="931" y1="2286.8" x2="938" y2="2286.8"/>
<line x1="931" y1="2183.3" x2="938" y2="2183.3"/><line x1="931" y1="2079.8" x2="938" y2="2079.8"/>
<line x1="931" y1="1976.3" x2="938" y2="1976.3"/><line x1="931" y1="1873" x2="938" y2="1873"/>
<line x1="1101.4" y1="2442" x2="1101.4" y2="2457"/><line x1="1427" y1="2442" x2="1427" y2="2457"/>
</g>
<g font-size="33" fill="#111" text-anchor="end">
<text x="909" y="2454">0.5</text><text x="909" y="2350.5">0.6</text><text x="909" y="2247">0.7</text>
<text x="909" y="2143.5">0.8</text><text x="909" y="2040">0.9</text><text x="909" y="1936.5">1.0</text>
</g>
<text x="1101.4" y="2496" font-size="36" fill="#111" text-anchor="middle">Test</text>
<text x="1427" y="2496" font-size="36" fill="#111" text-anchor="middle">Train</text>
<text transform="translate(845,2157) rotate(-90)" font-size="43" fill="#111" text-anchor="middle" textLength="292" lengthAdjust="spacingAndGlyphs">Accuracy (a.u.)</text>
<g stroke="#111" stroke-width="2.5" fill="none">
<line x1="1101.4" y1="2100" x2="1101.4" y2="2111"/><line x1="1101.4" y1="2255.4" x2="1101.4" y2="2287"/>
<line x1="1072" y1="2100" x2="1131" y2="2100"/><line x1="1072" y1="2287" x2="1131" y2="2287"/>
<rect x="1043" y="2111" width="117" height="144.4" fill="#c4c4c4"/>
<line x1="1043" y1="2183" x2="1160" y2="2183"/>
<line x1="1367" y1="1924.5" x2="1486" y2="1924.5"/>
</g>
<g fill="url(#gp)" opacity="0.9">
<circle cx="1087.7" cy="2100" r="5.5"/><circle cx="1083" cy="2111" r="5.5"/>
<circle cx="1096" cy="2111" r="5.5"/><circle cx="1091" cy="2183.4" r="5.5"/>
<circle cx="1103.4" cy="2183.4" r="5.5"/><circle cx="1098" cy="2255.4" r="5.5"/>
<circle cx="1116" cy="2287" r="5.5"/>
<circle cx="1404" cy="1924.5" r="5.5"/><circle cx="1413" cy="1924.5" r="5.5"/>
<circle cx="1428.6" cy="1924.5" r="5.5"/><circle cx="1434.6" cy="1924.5" r="5.5"/>
</g>
<path d="M1101.4,2167.8 L1107.9,2174.8 L1101.4,2181.8 L1094.9,2174.8 Z" fill="#000"/>
<path d="M1427,1917.5 L1433.5,1924.5 L1427,1931.5 L1420.5,1924.5 Z" fill="#000"/>
</svg>
</body></html>
